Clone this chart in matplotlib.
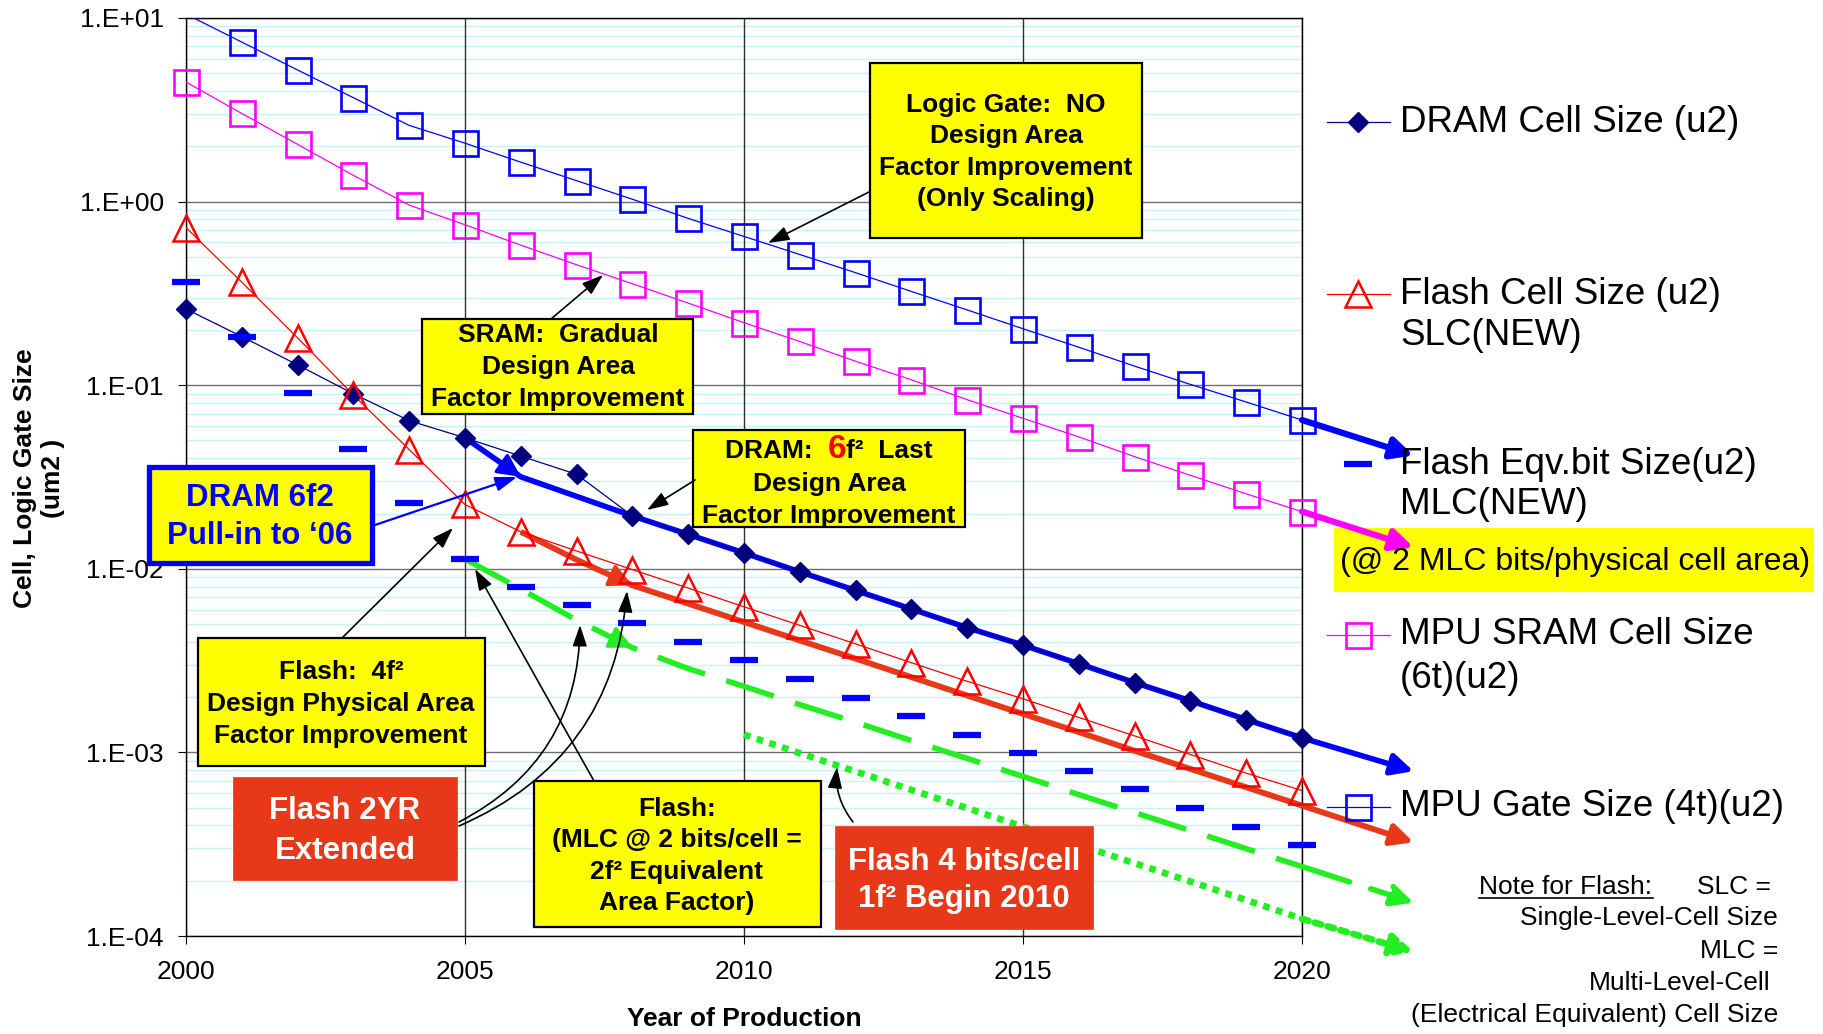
import numpy as np
import matplotlib
matplotlib.use("Agg")
import matplotlib.pyplot as plt
from matplotlib.patches import Rectangle, FancyArrowPatch
from matplotlib.lines import Line2D
from matplotlib.ticker import LogLocator, FuncFormatter, NullFormatter
from matplotlib.offsetbox import TextArea, HPacker, AnnotationBbox

plt.rcParams['font.family'] = ['Liberation Sans', 'DejaVu Sans']

W, H = 1824, 1034

# ---------- data (um^2) ----------
years = np.arange(2000, 2021)
mpu_gate = [10.5, 7.39, 5.21, 3.68, 2.60, 2.08, 1.64, 1.30, 1.03, 0.81, 0.646,
            0.515, 0.41, 0.324, 0.257, 0.203, 0.161, 0.127, 0.101, 0.081, 0.0646]
mpu_sram = [4.48, 3.02, 2.05, 1.39, 0.957, 0.748, 0.579, 0.453, 0.357, 0.28, 0.219,
            0.173, 0.135, 0.107, 0.0834, 0.066, 0.0523, 0.0408, 0.0323, 0.0256, 0.0205]
dram = [0.26, 0.184, 0.129, 0.0898, 0.0641, 0.0517, 0.0411, 0.0327, 0.0194, 0.0154, 0.0122,
        0.00963, 0.00762, 0.00604, 0.00478, 0.00384, 0.00304, 0.0024, 0.00191, 0.00151, 0.0012]
flash_slc = [0.722, 0.364, 0.181, 0.0885, 0.0446, 0.0224, 0.0159, 0.0125, 0.0099, 0.00785, 0.00621,
             0.00492, 0.0039, 0.00308, 0.00244, 0.00196, 0.00155, 0.00123, 0.000974, 0.000771, 0.00062]
flash_mlc = [0.364, 0.184, 0.0902, 0.0452, 0.0227, 0.0113, 0.00798, 0.00634, 0.00504, 0.00401, 0.00317,
             0.00251, 0.00199, 0.00158, 0.00125, 0.00099, 0.000794, 0.000629, 0.000498, 0.000394, 0.000312]

# "new" trend lines
dram_6f2_years = np.arange(2005, 2021)
dram_6f2 = [0.0517, 0.0317, 0.0248, 0.0194, 0.0154, 0.0122, 0.00963, 0.00762, 0.00604,
            0.00478, 0.00384, 0.00304, 0.0024, 0.00191, 0.00151, 0.0012]
slc_2yr_years = np.arange(2006, 2021)
slc_2yr = [0.0159, 0.0112, 0.00813, 0.00646, 0.00513, 0.00407, 0.00324, 0.00257, 0.00204,
           0.00162, 0.00129, 0.00102, 0.000813, 0.000646, 0.000513]
mlc_2yr_years = np.arange(2005, 2021)
mlc_2yr = [0.0113, 0.00776, 0.00525, 0.00372, 0.00286, 0.00229, 0.00182, 0.00146, 0.00116,
           0.000927, 0.00074, 0.000589, 0.00047, 0.000375, 0.000299, 0.000239]
mlc4_years = np.arange(2010, 2021)
mlc4 = [0.00125, 0.00099, 0.000787, 0.000625, 0.000497, 0.000394, 0.000313, 0.000249,
        0.000198, 0.000157, 0.000124]

# where the extension arrows end (year 2022)
arrow_year = 2022
gate_end, sram_end, dram_end = 0.0414, 0.0131, 0.00079
slc_end, mlc_end, mlc4_end = 0.000324, 0.000152, 0.000082

# ---------- figure ----------
fig = plt.figure(figsize=(W / 100, H / 100), dpi=100)
ax = fig.add_axes([186 / W, 1 - 936 / H, (1302 - 186) / W, (936 - 18) / H])
ax.set_yscale('log')
ax.set_xlim(2000, 2020)
ax.set_ylim(1e-4, 10)
ax.set_xticks(range(2000, 2021, 5))
ax.yaxis.set_minor_locator(LogLocator(base=10, subs=np.arange(2, 10), numticks=20))
ax.yaxis.set_minor_formatter(NullFormatter())
ax.yaxis.set_major_formatter(FuncFormatter(lambda v, p: f"1.E{int(round(np.log10(v))):+03d}"))
ax.tick_params(which='minor', length=0)
ax.tick_params(axis='y', which='major', direction='out', length=6, labelsize=19, pad=10)
ax.tick_params(axis='x', which='major', direction='out', length=6, labelsize=19, pad=11)
ax.grid(True, which='minor', axis='y', color='#c4f4f4', lw=1.0)
ax.grid(True, which='major', axis='y', color='#707070', lw=1.0)
ax.grid(True, which='major', axis='x', color='#303030', lw=1.0)
ax.set_axisbelow(True)
ax.xaxis.set_zorder(0.6)   # vertical grid over the light minor lines
for sp in ax.spines.values():
    sp.set_linewidth(1.0)

NAVY, BLUE, MAG, RED = '#000080', '#0000FF', '#FF00FF', '#FF0000'
ORANGE_RED, GREEN = '#E8381A', '#22EE22'
DOTS = (1.0, 1.0)
DASH = (9, 4)


def head(x, vals, xs, color, lw):
    """small arrowhead along a trend line at year x"""
    lv = np.log10(vals)
    x0 = x - 0.35
    y0 = 10 ** np.interp(x0, xs, lv)
    y1 = 10 ** np.interp(x, xs, lv)
    ax.annotate('', xy=(x, y1), xytext=(x0, y0),
                arrowprops=dict(arrowstyle='-|>,head_length=0.7,head_width=0.35',
                                mutation_scale=20, lw=lw * 0.6, color=color,
                                shrinkA=0, shrinkB=0), zorder=3)


def extend(x0, y0, y1, color, lw, ls='-'):
    ax.annotate('', xy=(arrow_year, y1), xytext=(x0, y0), annotation_clip=False,
                arrowprops=dict(arrowstyle='-|>,head_length=0.65,head_width=0.32',
                                mutation_scale=20, lw=lw, color=color, linestyle=ls,
                                shrinkA=0, shrinkB=0), zorder=3)


# thick trend lines
ax.plot(dram_6f2_years, dram_6f2, color=BLUE, lw=4.0, zorder=2, solid_capstyle='butt')
ax.plot(slc_2yr_years, slc_2yr, color=ORANGE_RED, lw=4.2, zorder=2, solid_capstyle='butt')
ax.plot(mlc_2yr_years, mlc_2yr, color=GREEN, lw=4.0, dashes=DASH, zorder=2)
ax.plot(mlc4_years, mlc4, color=GREEN, lw=4.8, dashes=DOTS, zorder=2)
head(2006, dram_6f2, dram_6f2_years, BLUE, 4.0)
head(2008, slc_2yr, slc_2yr_years, ORANGE_RED, 4.2)
head(2008, mlc_2yr, mlc_2yr_years, GREEN, 4.0)

# thin series lines
ax.plot(years, mpu_gate, color=BLUE, lw=0.9, zorder=3)
ax.plot(years, mpu_sram, color=MAG, lw=0.9, zorder=3)
ax.plot(years, dram, color=NAVY, lw=0.9, zorder=3)
ax.plot(years, flash_slc, color=RED, lw=0.9, zorder=3)

# markers (not clipped at plot edge)
gate_arr = np.array(mpu_gate)
gate_vis = np.where(gate_arr <= 10, gate_arr, np.nan)
ax.plot(years, gate_vis, ls='none', marker='s', ms=18, mfc='none', mec=BLUE, mew=1.9,
        clip_on=False, zorder=4)
ax.plot(years, mpu_sram, ls='none', marker='s', ms=18, mfc='none', mec=MAG, mew=1.9,
        clip_on=False, zorder=4)
ax.plot(years, dram, ls='none', marker='D', ms=10, mfc=NAVY, mec=NAVY,
        clip_on=False, zorder=4)
ax.plot(years, flash_slc, ls='none', marker='^', ms=19, mfc='none', mec=RED, mew=1.8,
        clip_on=False, zorder=4)
ax.plot(years, flash_mlc, ls='none', marker='_', ms=20, mec=BLUE, mew=4.5,
        clip_on=False, zorder=5)

# extensions past 2020
extend(2020, mpu_gate[-1], gate_end, BLUE, 4.5)
extend(2020, mpu_sram[-1], sram_end, MAG, 4.5)
extend(2020, dram_6f2[-1], dram_end, BLUE, 4.0)
extend(2020, slc_2yr[-1], slc_end, ORANGE_RED, 4.2)
extend(2020, mlc_2yr[-1], mlc_end, GREEN, 4.0, ls=(0, DASH))
extend(2020, mlc4[-1], mlc4_end, GREEN, 4.8, ls=(0, DOTS))

# axis titles
fig.text(25 / W, 1 - 478 / H, 'Cell, Logic Gate Size', rotation=90, ha='center', va='center',
         fontsize=19, weight='bold')
fig.text(53 / W, 1 - 478 / H, '(um2 )', rotation=90, ha='center', va='center',
         fontsize=19, weight='bold')
fig.text(744 / W, 1 - 1019 / H, 'Year of Production', ha='center', va='center',
         fontsize=19, weight='bold')


# ---------- call-out boxes ----------
def fp(x, y):
    return (x / W, 1 - y / H)


def add_box(x0, y0, x1, y1, fc, ec='black', lw=1.6, z=6):
    fig.add_artist(Rectangle((x0 / W, 1 - y1 / H), (x1 - x0) / W, (y1 - y0) / H,
                             transform=fig.transFigure, facecolor=fc, edgecolor=ec,
                             linewidth=lw, zorder=z))


def add_text(x, y, s, size=19, color='black', ls=1.4, z=7, **kw):
    fig.text(x / W, 1 - y / H, s, ha='center', va='center', fontsize=size, weight='bold',
             color=color, linespacing=ls, zorder=z, **kw)


def add_arrow(tail, tip, color='black', lw=1.2, rad=0.0):
    fig.add_artist(FancyArrowPatch(fp(*tail), fp(*tip), transform=fig.transFigure,
                                   arrowstyle='-|>,head_length=0.65,head_width=0.22',
                                   connectionstyle=f'arc3,rad={rad}', mutation_scale=20,
                                   lw=lw, color=color, shrinkA=0, shrinkB=0, zorder=8))


YEL = '#FFFF00'
BOXRED = '#E8381A'

add_box(870, 63, 1142, 238, YEL)
add_text(1006, 152, 'Logic Gate:  NO\nDesign Area\nFactor Improvement\n(Only Scaling)')
add_arrow((869, 192), (768, 243))

add_box(422, 319, 693, 414, YEL)
add_text(558, 367, 'SRAM:  Gradual\nDesign Area\nFactor Improvement')
add_arrow((551, 319), (603, 275))

add_box(693, 430, 965, 527, YEL)
parts = [TextArea('DRAM:  ', textprops=dict(fontsize=19, weight='bold', color='black')),
         TextArea('6', textprops=dict(fontsize=24, weight='bold', color=RED)),
         TextArea('f²  Last', textprops=dict(fontsize=19, weight='bold', color='black'))]
ab = AnnotationBbox(HPacker(children=parts, align='baseline', pad=0, sep=0),
                    fp(829, 449), xycoords='figure fraction', frameon=False,
                    box_alignment=(0.5, 0.5))
ab.set_zorder(7)
fig.add_artist(ab)
add_text(829, 500, 'Design Area\nFactor Improvement')
add_arrow((695, 480), (647, 510))

add_box(149, 467, 372, 563, YEL, ec=BLUE, lw=3.8)
add_text(260, 517, 'DRAM 6f2\nPull-in to \u201806', size=22.5, color=BLUE, ls=1.37)
add_arrow((372, 526), (517, 477), color=BLUE, lw=1.6)

add_box(198, 638, 485, 766, YEL)
add_text(341, 704, 'Flash:  4f²\nDesign Physical Area\nFactor Improvement')
add_arrow((342, 638), (453, 528))

add_box(233, 777, 457, 880, BOXRED, ec=BOXRED, lw=0.5)
add_text(345, 831, 'Flash 2YR\nExtended', size=22.5, color='white', ls=1.4)
add_arrow((459, 822), (580, 625), rad=0.3)
add_arrow((459, 826), (627, 591), rad=0.3)

add_box(534, 781, 821, 927, YEL)
add_text(677, 856, 'Flash:\n(MLC @ 2 bits/cell =\n2f² Equivalent\nArea Factor)')
add_arrow((594, 781), (475, 569))

add_box(835, 826, 1093, 929, BOXRED, ec=BOXRED, lw=0.5)
add_text(964, 880, 'Flash 4 bits/cell\n1f² Begin 2010', size=22.5, color='white', ls=1.34)
add_arrow((853, 822), (837, 767), rad=-0.2)

# ---------- legend (drawn by hand, as in the source slide) ----------
LX0, LX1, LXM, TX = 1327, 1390, 1358, 1400
leg_size = 26.5


def leg_line(y, color, marker, ms, mfc, mec, mew, line=True):
    if line:
        fig.add_artist(Line2D([LX0 / W, LX1 / W], [1 - y / H] * 2, transform=fig.transFigure,
                              color=color, lw=0.9))
    fig.add_artist(Line2D([LXM / W], [1 - y / H], transform=fig.transFigure, ls='none',
                          marker=marker, ms=ms, mfc=mfc, mec=mec, mew=mew))


def leg_text(y, s, size=leg_size):
    fig.text(TX / W, 1 - y / H, s, ha='left', va='center', fontsize=size)


leg_line(122, NAVY, 'D', 10, NAVY, NAVY, 1)
leg_text(122, 'DRAM Cell Size (u2)')
leg_line(294, RED, '^', 19, 'none', RED, 1.8)
leg_text(294, 'Flash Cell Size (u2)')
leg_text(336, 'SLC(NEW)')
leg_line(464, BLUE, '_', 20, BLUE, BLUE, 4.5, line=False)
leg_text(464, 'Flash Eqv.bit Size(u2)')
leg_text(505, 'MLC(NEW)')
add_box(1334, 528, 1814, 592, YEL, ec=YEL, lw=0.1, z=-1)
fig.text(1340 / W, 1 - 562 / H, '(@ 2 MLC bits/physical cell area)', ha='left', va='center',
         fontsize=23, zorder=0)
leg_line(635, MAG, 's', 18, 'none', MAG, 1.9)
leg_text(635, 'MPU SRAM Cell Size')
leg_text(678, '(6t)(u2)')
leg_line(807, BLUE, 's', 18, 'none', BLUE, 1.9)
leg_text(807, 'MPU Gate Size (4t)(u2)')

note_size = 19
fig.text(1479 / W, 1 - 887 / H, 'Note for Flash:', ha='left', va='center', fontsize=note_size)
fig.add_artist(Line2D([1479 / W, 1653 / W], [1 - 898 / H] * 2, transform=fig.transFigure,
                      color='black', lw=1.2))
fig.text(1771 / W, 1 - 887 / H, 'SLC =', ha='right', va='center', fontsize=note_size)
fig.text(1778 / W, 1 - 918 / H, 'Single-Level-Cell Size', ha='right', va='center', fontsize=note_size)
fig.text(1778 / W, 1 - 951 / H, 'MLC =', ha='right', va='center', fontsize=note_size)
fig.text(1771 / W, 1 - 983 / H, 'Multi-Level-Cell', ha='right', va='center', fontsize=note_size)
fig.text(1778 / W, 1 - 1015 / H, '(Electrical Equivalent) Cell Size', ha='right', va='center',
         fontsize=note_size)

fig.savefig('out.png', dpi=100, facecolor='white')
